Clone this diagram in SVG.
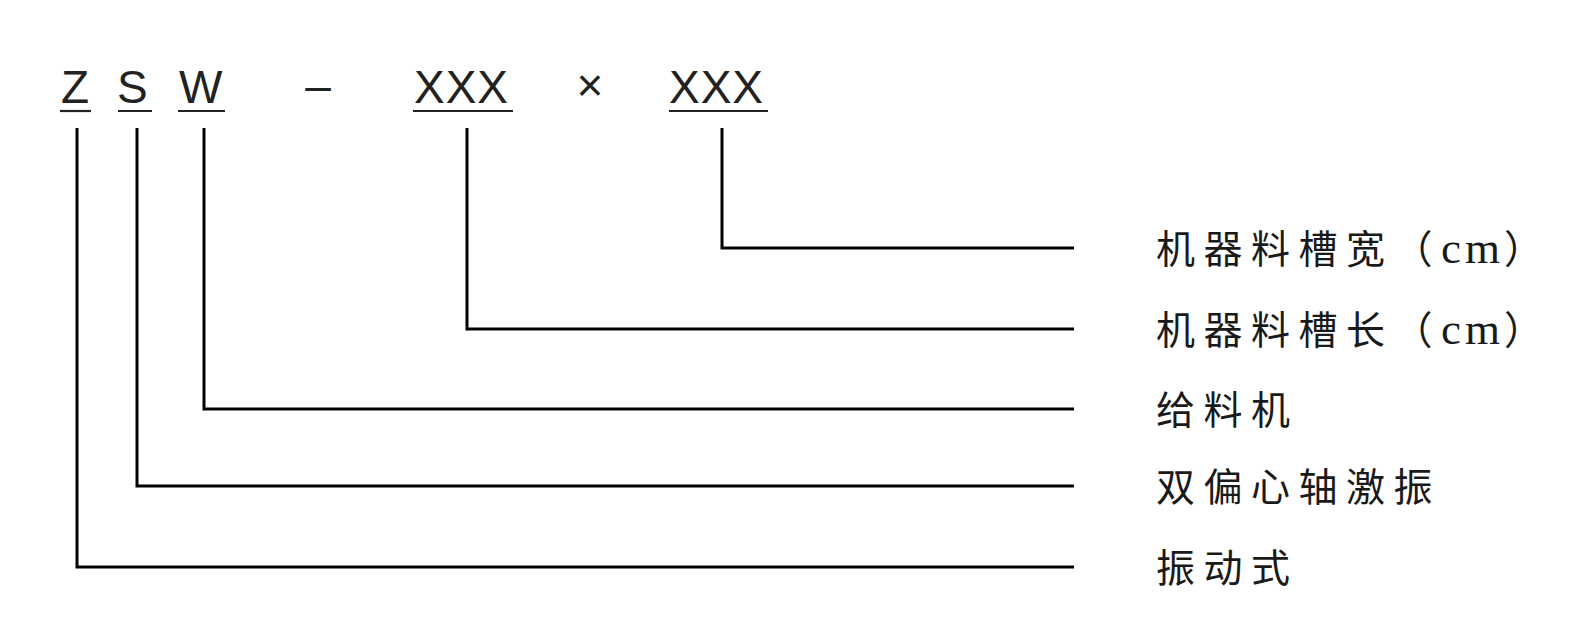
<svg xmlns="http://www.w3.org/2000/svg" width="1582" height="642" viewBox="0 0 1582 642">
<style>
.code{font-family:"Liberation Sans",Arial,sans-serif;font-size:46px;fill:#222}
.ul{stroke:#222;stroke-width:2.2;fill:none}
.lbl{font-family:"Noto Sans CJK SC",sans-serif;font-size:39px;fill:#1a1a1a;letter-spacing:8.5px}
.lat{font-family:"Liberation Serif","Noto Sans CJK SC",serif;font-size:45px;letter-spacing:4px}
.conn{stroke:#000;stroke-width:3;fill:none;stroke-linejoin:miter}
</style>
<rect width="1582" height="642" fill="#fff"/>
<g id="code-Z"><text class="code" x="61" y="103">Z</text><line class="ul" x1="60" y1="111" x2="91" y2="111"/></g>
<g id="code-S"><text class="code" x="117" y="103">S</text><line class="ul" x1="118" y1="111" x2="152" y2="111"/></g>
<g id="code-W"><text class="code" x="179" y="103">W</text><line class="ul" x1="178" y1="111" x2="225" y2="111"/></g>
<g id="code-dash"><text class="code" x="318" y="101" text-anchor="middle" font-size="40">–</text></g>
<g id="code-len"><text class="code" x="414" y="103" letter-spacing="1">XXX</text><line class="ul" x1="413" y1="111" x2="513" y2="111"/></g>
<g id="code-times"><text class="code" x="590" y="101" text-anchor="middle">×</text></g>
<g id="code-wid"><text class="code" x="669" y="103" letter-spacing="1">XXX</text><line class="ul" x1="669" y1="111" x2="768" y2="111"/></g>
<g id="connectors">
<path class="conn" d="M722 128 V248 H1074"/>
<path class="conn" d="M467 128 V329 H1074"/>
<path class="conn" d="M204 128 V409 H1074"/>
<path class="conn" d="M137 128 V486 H1074"/>
<path class="conn" d="M77 128 V567 H1074"/>
</g>
<g id="label-width"><text class="lbl" x="1156" y="263">机器料槽宽（<tspan class="lat">cm</tspan>）</text></g>
<g id="label-length"><text class="lbl" x="1156" y="344">机器料槽长（<tspan class="lat">cm</tspan>）</text></g>
<g id="label-feeder"><text class="lbl" x="1156" y="424">给料机</text></g>
<g id="label-exciter"><text class="lbl" x="1156" y="501">双偏心轴激振</text></g>
<g id="label-vibrating"><text class="lbl" x="1156" y="582">振动式</text></g>
</svg>
